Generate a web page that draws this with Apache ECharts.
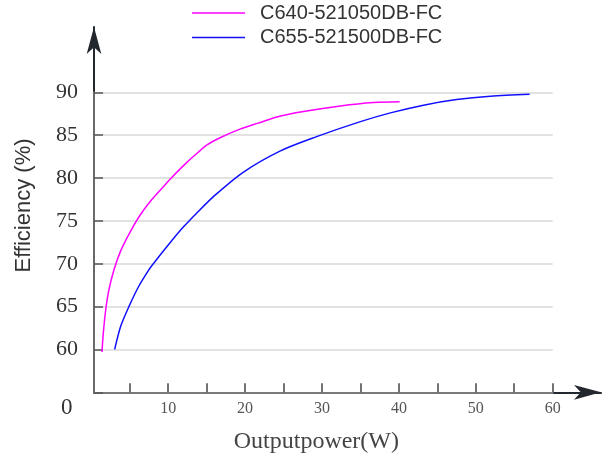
<!DOCTYPE html>
<html>
<head>
<meta charset="utf-8">
<script src="https://cdn.jsdelivr.net/npm/echarts@6/dist/echarts.min.js"></script>
<style>html,body{margin:0;padding:0;background:#fff}#c{width:603px;height:459px}</style>
</head>
<body>
<div id="c"></div>
<script>
const seriesNames = ['C640-521050DB-FC', 'C655-521500DB-FC'];
const magentaData = [[1.4,59.7],[1.57,61.9],[1.88,64.6],[2.31,67.0],[2.96,69.3],[3.83,71.5],[5.0,73.6],[6.3,75.6],[7.8,77.4],[9.5,79.1],[10.4,80.0],[12.4,81.8],[14.15,83.2],[15.0,83.85],[16.75,84.7],[19.35,85.7],[21.7,86.4],[24.5,87.2],[27.2,87.7],[32.4,88.4],[36.7,88.8],[40.1,88.9]];
const blueData = [[3.05,60.0],[3.83,62.7],[4.9,65.0],[6.2,67.4],[7.5,69.3],[8.07,70.0],[10.3,72.5],[12.0,74.3],[13.7,75.9],[16.1,78.0],[19.8,80.7],[24.6,83.17],[29.3,84.83],[35.0,86.58],[38.9,87.6],[43.2,88.5],[47.5,89.15],[51.9,89.55],[57.0,89.77]];
const xTickValues = [5,10,15,20,25,30,35,40,45,50,55,60];
const xLabelValues = [10,20,30,40,50,60];
const yMin = 55, yMax = 90, yStep = 5;
const xMin = 0.36, xMax = 60;

const chart = echarts.init(document.getElementById('c'), null, {renderer: 'canvas'});
chart.setOption({
  animation: false,
  backgroundColor: '#fff',
  grid: [
    {left: 94, right: 50.3, top: 92.3, bottom: 66.7},
    {left: 94, right: 2, top: 27, bottom: 66.7}
  ],
  legend: {
    data: seriesNames,
    orient: 'vertical',
    left: 187,
    top: -2,
    icon: 'rect',
    itemWidth: 53,
    itemHeight: 1.5,
    itemGap: 4.6,
    textStyle: {fontSize: 20, lineHeight: 14, fontFamily: 'Liberation Sans', color: '#333', padding: [0,0,0,10]}
  },
  xAxis: [
    {
      type: 'value', gridIndex: 0, min: xMin, max: xMax, z: 3,
      axisLine: {show: true, lineStyle: {color: '#7a7a7a', width: 2}},
      axisTick: {show: true, inside: true, length: 9, customValues: xTickValues, lineStyle: {color: '#444', width: 1.5}},
      axisLabel: {customValues: xLabelValues, fontFamily: 'Liberation Serif', fontSize: 16, color: '#555', margin: 8},
      splitLine: {show: false},
      name: 'Outputpower(W)',
      nameLocation: 'middle',
      nameGap: 37.5,
      nameTextStyle: {fontFamily: 'Liberation Serif', fontSize: 24, color: '#444', padding: [0, 14, 0, 0]}
    },
    {
      type: 'value', gridIndex: 1, min: 0, max: 1, z: 2,
      axisLine: {show: true, symbol: ['none', 'arrow'], symbolSize: [11, 27], lineStyle: {color: '#23282e', width: 2}},
      axisTick: {show: false}, axisLabel: {show: false}, splitLine: {show: false}
    }
  ],
  yAxis: [
    {
      type: 'value', gridIndex: 0, min: yMin, max: yMax, interval: yStep, z: 3,
      axisLine: {show: true, lineStyle: {color: '#6a6a6a', width: 2}},
      axisTick: {show: true, inside: true, length: 9, lineStyle: {color: '#555', width: 1.5}},
      axisLabel: {fontFamily: 'Liberation Serif', fontSize: 22, color: '#333', margin: 16,
        formatter: v => v === yMin ? '' : String(v)},
      splitLine: {show: true, lineStyle: {color: '#d8d8d8', width: 1.5}}
    },
    {
      type: 'value', gridIndex: 1, min: 0, max: 1, z: 2,
      axisLine: {show: true, symbol: ['none', 'arrow'], symbolSize: [11, 27], lineStyle: {color: '#23282e', width: 2}},
      axisTick: {show: false}, axisLabel: {show: false}, splitLine: {show: false}
    }
  ],
  graphic: [
    {type: 'text', left: 61, top: 396, style: {text: '0', font: '23px "Liberation Serif"', fill: '#333'}},
    {type: 'text', x: 24, y: 205.5, rotation: Math.PI / 2,
      style: {text: 'Efficiency (%)', font: '22px "Liberation Sans"', fill: '#333', align: 'center', verticalAlign: 'middle'}}
  ],
  series: [
    {name: seriesNames[0], type: 'line', xAxisIndex: 0, yAxisIndex: 0, data: magentaData, symbol: 'none',
      smooth: 0.3, lineStyle: {color: '#ff00ff', width: 1.5}, itemStyle: {color: '#ff00ff'}},
    {name: seriesNames[1], type: 'line', xAxisIndex: 0, yAxisIndex: 0, data: blueData, symbol: 'none',
      smooth: 0.3, lineStyle: {color: '#1010ff', width: 1.5}, itemStyle: {color: '#1010ff'}}
  ]
});
</script>
</body>
</html>
